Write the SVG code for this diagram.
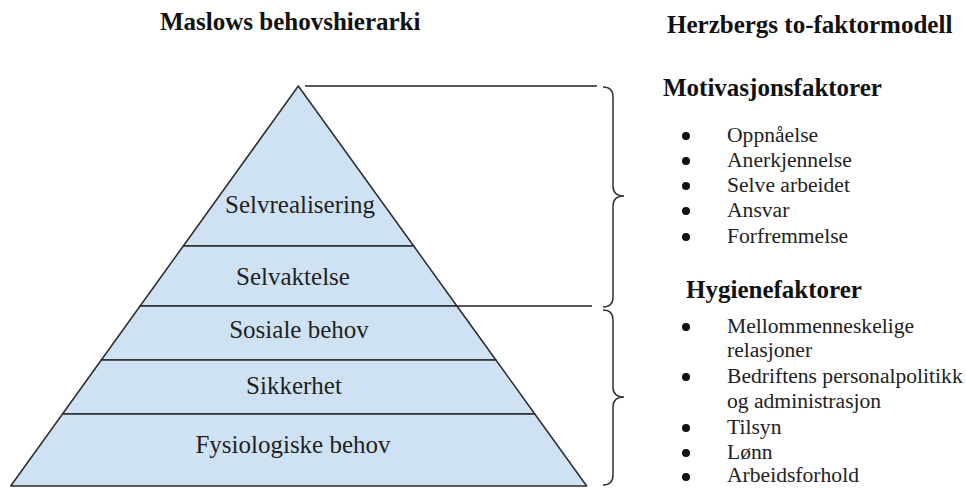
<svg xmlns="http://www.w3.org/2000/svg" width="966" height="488" viewBox="0 0 966 488">
<style>
.layer{fill:#cfe2f3;stroke:#2b2b2b;stroke-width:1.5;stroke-linejoin:round}
.lbl{font-family:"Liberation Serif","Times New Roman",serif;font-size:25px;fill:#222;text-anchor:middle}
.hdr{font-family:"Liberation Serif","Times New Roman",serif;font-size:25px;font-weight:bold;fill:#111}
.item{font-family:"Liberation Serif","Times New Roman",serif;font-size:21.6px;fill:#222}
.line{stroke:#222;stroke-width:1.5;fill:none}
.brace{stroke:#333;stroke-width:1.5;fill:none}
.dot{fill:#111}
</style>
<rect width="966" height="488" fill="#ffffff"/>
<text class="hdr" x="160" y="30">Maslows behovshierarki</text>
<text class="hdr" x="667" y="33">Herzbergs to-faktormodell</text>

<g id="selvrealisering">
<polygon class="layer" points="298.3,86 413.7,246 183.3,246"/>
<text class="lbl" x="300" y="213">Selvrealisering</text>
</g>
<g id="selvaktelse">
<polygon class="layer" points="183.3,246 413.7,246 456.9,306 140.1,306"/>
<text class="lbl" x="293" y="285">Selvaktelse</text>
</g>
<g id="sosiale">
<polygon class="layer" points="140.1,306 456.9,306 495.9,360 101.3,360"/>
<text class="lbl" x="299" y="338">Sosiale behov</text>
</g>
<g id="sikkerhet">
<polygon class="layer" points="101.3,360 495.9,360 534.8,414 62.5,414"/>
<text class="lbl" x="294" y="394">Sikkerhet</text>
</g>
<g id="fysiologiske">
<polygon class="layer" points="62.5,414 534.8,414 586.7,486 10.7,486"/>
<text class="lbl" x="293" y="453">Fysiologiske behov</text>
</g>

<g id="connectors">
<line class="line" x1="305" y1="86" x2="597" y2="86"/>
<line class="line" x1="456.9" y1="306" x2="592" y2="306"/>
<path class="brace" d="M603,87 Q613,87 613,97 L613,186 Q613,196 624,196 Q613,196 613,206 L613,297 Q613,307 603,307"/>
<path class="brace" d="M603,310 Q613,310 613,320 L613,387 Q613,397 624,397 Q613,397 613,407 L613,475 Q613,485 603,485"/>
</g>

<g id="motivasjon">
<text class="hdr" x="663" y="96">Motivasjonsfaktorer</text>
<circle class="dot" cx="686" cy="136" r="4"/><text class="item" x="727" y="142">Oppnåelse</text>
<circle class="dot" cx="686" cy="161" r="4"/><text class="item" x="727" y="167">Anerkjennelse</text>
<circle class="dot" cx="686" cy="186" r="4"/><text class="item" x="727" y="192">Selve arbeidet</text>
<circle class="dot" cx="686" cy="211" r="4"/><text class="item" x="727" y="217">Ansvar</text>
<circle class="dot" cx="686" cy="237" r="4"/><text class="item" x="727" y="243">Forfremmelse</text>
</g>

<g id="hygiene">
<text class="hdr" x="686" y="298">Hygienefaktorer</text>
<circle class="dot" cx="686" cy="327" r="4"/><text class="item" x="727" y="333">Mellommenneskelige</text>
<text class="item" x="727" y="357">relasjoner</text>
<circle class="dot" cx="686" cy="377" r="4"/><text class="item" x="727" y="383">Bedriftens personalpolitikk</text>
<text class="item" x="727" y="408">og administrasjon</text>
<circle class="dot" cx="686" cy="428" r="4"/><text class="item" x="727" y="434">Tilsyn</text>
<circle class="dot" cx="686" cy="453" r="4"/><text class="item" x="727" y="459">Lønn</text>
<circle class="dot" cx="686" cy="477" r="4"/><text class="item" x="727" y="482">Arbeidsforhold</text>
</g>
</svg>
